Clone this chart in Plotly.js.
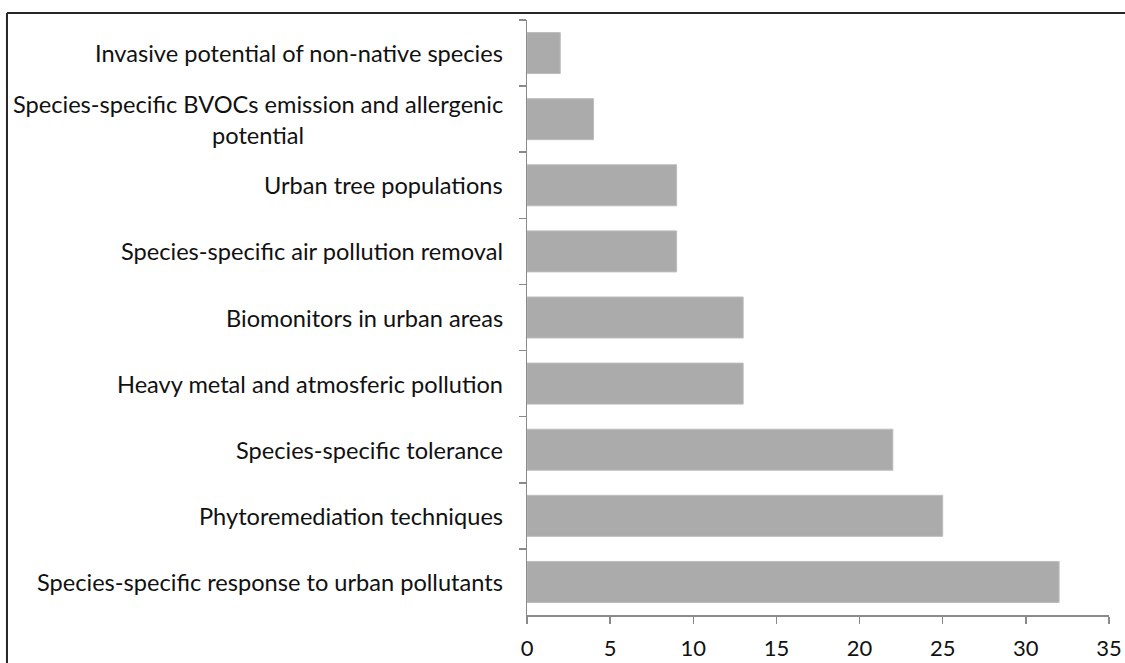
<!DOCTYPE html>
<html>
<head>
<meta charset="utf-8">
<script src="https://cdn.plot.ly/plotly-3.0.1.min.js"></script>
<style>html,body{margin:0;padding:0;background:#fff;}#chart{width:1125px;height:663px;}</style>
</head>
<body>
<div id="chart"></div>
<script>
// Categories listed top to bottom as in the reference
var categories = [
  "Invasive potential of non-native species",
  "Species-specific BVOCs emission and allergenic<br>potential",
  "Urban tree populations",
  "Species-specific air pollution removal",
  "Biomonitors in urban areas",
  "Heavy metal and atmosferic pollution",
  "Species-specific tolerance",
  "Phytoremediation techniques",
  "Species-specific response to urban pollutants"
];
var counts = [2, 4, 9, 9, 13, 13, 22, 25, 32];
var xTickValues = [0, 5, 10, 15, 20, 25, 30, 35];

var FONT = "Lato, 'Open Sans', sans-serif";

var trace = {
  type: "bar",
  orientation: "h",
  y: categories,
  x: counts,
  marker: { color: "#ababab", line: { color: "#bdbdbd", width: 1 } },
  hoverinfo: "x+y"
};

var annotations = categories.map(function (c) {
  return {
    xref: "paper", yref: "y",
    x: 0, y: c,
    xanchor: "right", yanchor: "middle",
    xshift: -22,
    align: "center",
    showarrow: false,
    text: c,
    font: { family: FONT, size: 23.6, color: "#111111" }
  };
});

var layout = {
  width: 1125,
  height: 663,
  margin: { l: 527, r: 16, t: 20, b: 48, pad: 0 },
  paper_bgcolor: "#ffffff",
  plot_bgcolor: "#ffffff",
  showlegend: false,
  bargap: 0.38,
  font: { family: FONT, size: 22, color: "#111111" },
  xaxis: {
    range: [0, 35],
    tickvals: xTickValues,
    ticktext: xTickValues.map(String),
    showgrid: false,
    zeroline: false,
    showline: true,
    linecolor: "#8a8a8a",
    linewidth: 1.5,
    ticks: "outside",
    ticklen: 7,
    tickwidth: 1.5,
    tickcolor: "#8a8a8a",
    ticklabelstandoff: 6,
    tickfont: { family: FONT, size: 22, color: "#111111" },
    fixedrange: true
  },
  yaxis: {
    type: "category",
    autorange: "reversed",
    showticklabels: false,
    tickson: "boundaries",
    ticks: "outside",
    ticklen: 7,
    tickwidth: 1.5,
    tickcolor: "#8a8a8a",
    showgrid: false,
    zeroline: false,
    showline: true,
    linecolor: "#8a8a8a",
    linewidth: 1.5,
    fixedrange: true
  },
  annotations: annotations,
  shapes: [
    { type: "line", xref: "paper", yref: "paper", x0: -0.8935, x1: 1.03, y0: 1.0118, y1: 1.0118,
      line: { color: "#262626", width: 2 } },
    { type: "line", xref: "paper", yref: "paper", x0: -0.8935, x1: -0.8935, y0: 1.0118, y1: -0.09,
      line: { color: "#262626", width: 2 } }
  ]
};

Plotly.newPlot("chart", [trace], layout, { displayModeBar: false, staticPlot: true });
</script>
</body>
</html>
